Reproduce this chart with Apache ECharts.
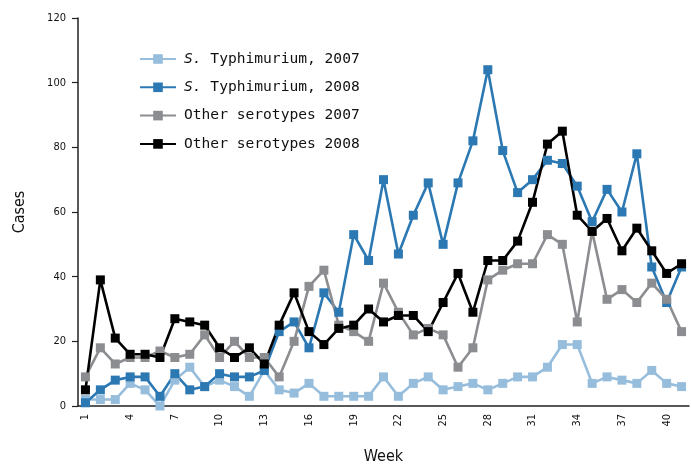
<!DOCTYPE html>
<html>
<head>
<meta charset="utf-8">
<script src="https://cdn.jsdelivr.net/npm/echarts@6/dist/echarts.min.js"></script>
<style>
html,body{margin:0;padding:0;background:#fff;}
#c{width:691px;height:470px;}
</style>
</head>
<body>
<div id="c"></div>
<script>
const weeks = [];
for (let i = 1; i <= 41; i++) weeks.push(String(i));

const typh2007 = [2,2,2,7,5,0,8,12,6,8,6,3,11,5,4,7,3,3,3,3,9,3,7,9,5,6,7,5,7,9,9,12,19,19,7,9,8,7,11,7,6];
const typh2008 = [1,5,8,9,9,3,10,5,6,10,9,9,11,23,26,18,35,29,53,45,70,47,59,69,50,69,82,104,79,66,70,76,75,68,57,67,60,78,43,32,43];
const other2007 = [9,18,13,15,15,17,15,16,22,15,20,15,15,9,20,37,42,25,23,20,38,29,22,24,22,12,18,39,42,44,44,53,50,26,54,33,36,32,38,33,23];
const other2008 = [5,39,21,16,16,15,27,26,25,18,15,18,13,25,35,23,19,24,25,30,26,28,28,23,32,41,29,45,45,51,63,81,85,59,54,58,48,55,48,41,44];

const seriesNames = ['S. Typhimurium, 2007','S. Typhimurium, 2008','Other serotypes 2007','Other serotypes 2008'];
const seriesColors = ['#97bddc','#2b78b3','#8b8d90','#000000'];
const seriesData = [typh2007, typh2008, other2007, other2008];

const chart = echarts.init(document.getElementById('c'), null, {renderer:'canvas'});
const condensed = '"DejaVu Sans Condensed","DejaVu Sans",sans-serif';
const mono = '"DejaVu Sans Mono",monospace';
const axisColor = '#222';

chart.setOption({
  animation:false,
  backgroundColor:'#fff',
  grid:{left:78, right:2, top:18, bottom:55, containLabel:false},
  legend:{
    orient:'vertical', left:134, top:46.5, itemWidth:36, itemHeight:12, itemGap:13.3,
    data:seriesNames,
    textStyle:{fontFamily:mono, fontSize:14.6, lineHeight:15, color:'#111', padding:[0,0,0,3],
      rich:{i:{fontStyle:'italic', fontFamily:mono, fontSize:14.6, lineHeight:15, color:'#111'},
            n:{fontFamily:mono, fontSize:14.6, lineHeight:15, color:'#111'}}},
    formatter:function(name){
      if (name.indexOf('S. ') === 0) return '{i|S.}{n|' + name.slice(2) + '}';
      return name;
    }
  },
  xAxis:{
    type:'category', data:weeks, boundaryGap:true,
    name:'Week', nameLocation:'middle', nameGap:43,
    nameTextStyle:{fontFamily:condensed, fontSize:16, color:'#111'},
    axisLine:{lineStyle:{color:axisColor, width:1.5}},
    axisTick:{interval:0, length:6, lineStyle:{color:axisColor, width:1.2}},
    axisLabel:{interval:2, rotate:90, fontFamily:condensed, fontSize:11, color:'#111', margin:8}
  },
  yAxis:{
    type:'value', min:0, max:120, interval:20,
    name:'Cases', nameLocation:'middle', nameGap:50, nameRotate:90,
    nameTextStyle:{fontFamily:condensed, fontSize:16, color:'#111'},
    axisLine:{show:true, lineStyle:{color:axisColor, width:1.5}},
    axisTick:{show:true, length:6, lineStyle:{color:axisColor, width:1.2}},
    axisLabel:{fontFamily:condensed, fontSize:11, color:'#111', margin:12},
    splitLine:{show:false}
  },
  series: seriesNames.map((n,i)=>({
    name:n, type:'line', data:seriesData[i],
    symbol:'rect', symbolSize:9, showSymbol:true,
    lineStyle:{color:seriesColors[i], width:2.6},
    itemStyle:{color:seriesColors[i], borderWidth:0},
    emphasis:{disabled:true}
  }))
});
</script>
</body>
</html>
